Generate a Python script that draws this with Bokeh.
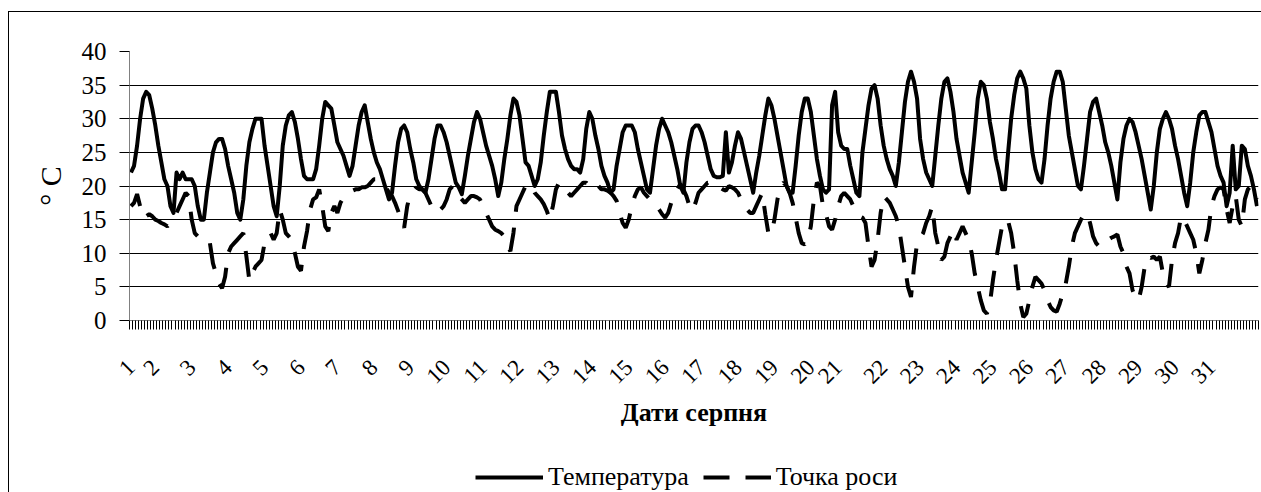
import math
from bokeh.plotting import figure
from bokeh.layouts import column
from bokeh.models import Range1d, FixedTicker, Legend, LegendItem
from bokeh.embed import file_html
from bokeh.resources import INLINE

# ---------------- data (2-hourly readings, 1..31 August) ----------------
temperature = [
    22, 23, 26, 30, 33, 34, 33.5, 31.5, 29, 26, 23.5, 21,
    20, 17, 16, 22, 21, 22, 21, 21, 21, 20, 17, 15,
    15, 19, 22, 25, 26.5, 27, 27, 25.5, 23, 21, 19, 16,
    15, 18, 23, 26.5, 28.5, 30, 30, 30, 26, 23, 20, 17,
    15.5, 20, 26, 29, 30.5, 31, 29.5, 27, 24, 21.5, 21, 21,
    21, 22.5, 26, 30, 32.5, 32, 31.5, 29, 26.5, 25.5, 24.5, 23,
    21.5, 23, 26, 29, 31, 32, 29.5, 27, 25, 23.5, 22.5, 21,
    19.5, 18, 19, 23, 26.5, 28.5, 29, 28, 25.5, 23.5, 21, 20,
    19.5, 19, 21, 24, 27, 29, 29, 28, 26.5, 24.5, 22.5, 20.5,
    19.8, 18.8, 21.5, 24.5, 27, 29.5, 31, 30, 28, 26, 24.5, 23,
    21, 18.5, 20.5, 24, 27, 30.5, 33, 32.5, 30.5, 27, 23.5, 23,
    21.5, 20, 21, 23.5, 27.5, 31, 34, 34, 34, 31, 27.5, 25.5,
    24, 23, 22.5, 22.5, 22, 24, 28.5, 31, 30, 27.5, 25.5, 23,
    21.5, 20.5, 19, 19.5, 23, 25.5, 28, 29, 29, 29, 28, 25.5,
    23.5, 21.5, 19.5, 19, 22.5, 26, 28.5, 30, 29, 28, 26.5, 24.5,
    22.5, 20, 19, 23.5, 26.5, 28.5, 29, 29, 28, 26.5, 24.5, 22.5,
    21.5, 21.3, 21.3, 21.5, 28, 22, 23.5, 26, 28, 27, 25, 23,
    21, 19, 22, 24.5, 27.5, 30.5, 33, 32, 30, 27.5, 25, 22.5,
    20, 19, 19, 23, 27.5, 31, 33, 33, 31, 27.5, 24, 21.5,
    19.5, 19, 19.5, 32, 34, 28, 26, 25.5, 25.5, 23, 21, 19,
    18.5, 25, 28.5, 32, 34.5, 35, 33, 29, 26, 24, 22.5, 21.5,
    20, 23.5, 28, 32.5, 35.5, 37, 35.5, 33, 27, 24, 22, 21,
    20, 24.5, 29, 33, 35.5, 36, 34, 31, 27, 24.5, 22, 20.5,
    19, 23.5, 28, 33, 35.5, 35, 33, 29.5, 27, 24, 22, 19.5,
    19.5, 25, 30, 33.5, 36, 37, 36, 34.5, 29, 25, 22.5, 21,
    20.5, 24, 29, 33, 35.5, 37, 37, 35.5, 31.5, 27.5, 25, 22.5,
    20, 19.5, 23, 27, 31, 32.5, 33, 31, 29, 26.5, 25, 23,
    20.5, 18, 23.5, 27, 29, 30, 29.5, 28, 26, 24, 21.5, 19,
    16.5, 20, 25, 28.5, 30, 31, 30, 28.5, 26, 24, 21.5, 19,
    17, 20.5, 25, 28, 30.5, 31, 31, 29.5, 28, 25.5, 23, 21.5,
    20.5, 17, 19, 26, 19.5, 20, 26, 25.5, 23, 21.5, 19.5, 17,
]

dew_point = [
    17, 17.5, 18.8, 17, 15.3, 15.5, 15.8, 15.5, 15, 14.8, 14.5, 14.3,
    14, 14.5, 15.5, 16, 17, 18, 19, 18.5, 15, 13, 12.5, 12.5,
    12.5, 12.3, 11.5, 8.5, 7, 5.5, 4.8, 6.5, 10, 11, 11.5, 12,
    12.5, 13, 9.6, 5.9, 7, 8, 8.5, 9, 11.5, 12.5, 13, 12,
    13, 16.5, 15, 13, 12.5, 12, 10, 8, 7.4, 11, 13.3, 16.5,
    18, 18.3, 19.5, 17, 14, 13.3, 16, 17, 16, 17.5, 18.3, 18.8,
    19, 19.3, 19.5, 19.5, 19.8, 19.8, 20, 20.5, 21, 21, 20.5, 20,
    19.8, 19, 18.5, 17.5, 16.3, 15, 13.8, 17, 18.8, 19.3, 19.8, 19.5,
    19.5, 19, 18, 17, 16.5, 16, 16.5, 17, 18, 19.5, 20, 19.5,
    18.5, 18, 17.5, 18, 18.5, 18.5, 18.3, 18, 17, 16, 15, 14,
    13.5, 13.3, 13, 12.5, 11, 10.3, 13, 17, 18, 19, 20, 20.3,
    20, 19, 18.5, 18, 17.3, 16.3, 15, 17, 19.5, 20.5, 20, 19.5,
    19, 18.5, 19, 19.5, 20, 20.5, 20.5, 20, 20, 20.5, 20, 19.5,
    19.5, 19.3, 19, 18.5, 17.8, 16, 14.5, 13.8, 15, 17, 18.5, 19.5,
    19.8, 19, 18.5, 18, 17.3, 17, 16.5, 15.8, 15.3, 16, 17.5, 18.5,
    19.5, 20.3, 19.5, 18.5, 17, 16.3, 17.5, 19, 19.5, 20, 20.5, 20.5,
    20.5, 20, 19.8, 19.5, 19.3, 20, 19.8, 19.5, 19, 18, 17, 16.5,
    16, 16, 17, 18, 19, 15.8, 13, 12.8, 15, 18, 20, 20.5,
    20, 19, 17.5, 15.3, 13, 11.5, 11.3, 12, 14, 18, 20.5, 20,
    17, 15.8, 14, 13.5, 15, 17, 18.5, 19, 18.5, 18, 17, 16.5,
    15.5, 15.3, 14.5, 11, 8, 9, 12, 16, 18.5, 18, 17.5, 16.5,
    15.5, 14, 11, 8, 5, 3.5, 8, 11.5, 12.3, 13, 14.5, 15.5,
    17, 13, 11, 9, 9.5, 11.5, 12.5, 13.5, 12, 13, 14, 13,
    12, 10, 7, 5, 3, 1.5, 1, 2.5, 6, 9, 11.5, 14,
    15, 14.8, 13, 10, 6, 2.5, 0.5, 1, 3, 5, 6.5, 6,
    5.5, 4.5, 3, 2, 1.5, 1.3, 2.5, 4, 5.5, 8, 11, 13,
    14, 15, 15.8, 16, 14.5, 12.5, 11.5, 11, 11.5, 12, 12, 12.3,
    12.5, 12.8, 11, 10, 8, 7, 4.5, 3.5, 3, 5, 8, 9.5,
    9.3, 9.5, 9, 9.5, 7, 5.5, 5, 9, 11.5, 13, 15.5, 15,
    14, 13, 12, 10, 7, 9, 11.5, 13.5, 17, 18.5, 19.5, 19.8,
    19.5, 16.5, 14.5, 17, 18.5, 15, 14, 18, 19.5, 20, 19, 18,
]

day_labels = [str(d) for d in range(1, 32)]
# index of the reading at which each day label is anchored
day_start = [0, 12, 24, 36, 48, 60, 72, 84, 96, 108, 120, 132, 144, 156, 168,
             180, 192, 204, 216, 228, 237, 252, 264, 276, 288, 300, 312, 324,
             336, 348, 360]
y_ticks = [0, 5, 10, 15, 20, 25, 30, 35, 40]
series_names = ["Температура", "Точка роси"]

n = len(temperature)
x = list(range(n))

FONT = "Liberation Serif"
LABEL_SHIFT = -4          # label end sits a few readings left of the day start

# ---------------- main chart ----------------
p = figure(width=1261, height=455, output_backend="svg", toolbar_location=None,
           x_range=Range1d(-0.5, n - 0.5), y_range=Range1d(0, 40),
           min_border_left=129, min_border_right=3, min_border_top=51,
           min_border_bottom=135, background_fill_color="white",
           border_fill_color=None, outline_line_color=None)

r_t = p.line(x, temperature, line_color="black", line_width=4, line_join="round")
r_d = p.line(x, dew_point, line_color="black", line_width=4, line_dash="26 16")

p.xgrid.visible = False
p.ygrid.grid_line_color = "black"
p.ygrid.grid_line_width = 1
p.ygrid.ticker = FixedTicker(ticks=y_ticks)

ya = p.yaxis[0]
ya.ticker = FixedTicker(ticks=y_ticks)
ya.axis_line_color = "#808080"
ya.major_tick_line_color = "black"
ya.major_tick_out = 10
ya.major_tick_in = 0
ya.minor_tick_line_color = None
ya.major_label_text_font = FONT
ya.major_label_text_font_size = "25px"
ya.major_label_text_color = "black"
ya.major_label_standoff = 13
ya.axis_label = "° C"
ya.axis_label_text_font = FONT
ya.axis_label_text_font_size = "30px"
ya.axis_label_text_font_style = "normal"
ya.axis_label_text_color = "black"
ya.axis_label_standoff = 12

label_pos = [max(d + LABEL_SHIFT, 0) for d in day_start]
xa = p.xaxis[0]
xa.ticker = FixedTicker(ticks=label_pos, minor_ticks=[i - 0.5 for i in range(n + 1)])
xa.major_label_overrides = {label_pos[i]: day_labels[i] for i in range(len(label_pos))}
xa.axis_line_color = "#808080"
xa.major_tick_out = 0
xa.major_tick_in = 0
xa.major_tick_line_color = None
xa.minor_tick_out = 9
xa.minor_tick_in = 0
xa.minor_tick_line_color = "black"
xa.minor_tick_line_width = 1
xa.major_label_orientation = math.pi / 4
xa.major_label_text_font = FONT
xa.major_label_text_font_size = "23px"
xa.major_label_text_color = "black"
xa.major_label_standoff = 34
xa.axis_label = "Дати серпня"
xa.axis_label_text_font = FONT
xa.axis_label_text_font_size = "26px"
xa.axis_label_text_font_style = "bold"
xa.axis_label_text_color = "black"
xa.axis_label_standoff = 5

# ---------------- legend strip ----------------
p2 = figure(width=1261, height=37, output_backend="svg", toolbar_location=None,
            x_range=Range1d(-20, -10), y_range=Range1d(100, 110),
            x_axis_location=None, y_axis_location=None,
            min_border_left=0, min_border_right=0, min_border_top=0, min_border_bottom=0,
            background_fill_color=None, border_fill_color=None, outline_line_color=None)
p2.grid.visible = False
l_t = p2.line(x, temperature, line_color="black", line_width=4)
l_d = p2.line(x, dew_point, line_color="black", line_width=4, line_dash="26 16")
legend = Legend(items=[LegendItem(label=series_names[0], renderers=[l_t]),
                       LegendItem(label=series_names[1], renderers=[l_d])],
                orientation="horizontal", location=(346, 0),
                border_line_color=None, background_fill_color=None,
                padding=0, margin=0, spacing=14, label_standoff=5,
                glyph_width=68, glyph_height=20, label_height=20,
                label_text_font=FONT, label_text_font_size="26px",
                label_text_color="black")
p2.add_layout(legend)

layout = column(p, p2, spacing=0)
# chart-area border (left & top edges visible in the reference crop)
layout.styles = {"box-shadow": ("inset 8px 0 0 0 #ffffff, inset 0 11px 0 0 #ffffff, "
                                "inset 9px 0 0 0 #000000, inset 0 12px 0 0 #000000")}

open("out.html", "w").write(file_html(layout, INLINE))
